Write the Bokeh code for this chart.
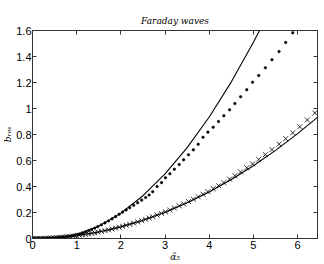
from bokeh.plotting import figure
from bokeh.models import LinearAxis, Range1d, FixedTicker
from bokeh.embed import file_html
from bokeh.resources import INLINE

# ---- data ----
line_hi_x = [0, 0.5, 1.0, 1.5, 2.0, 2.5, 3.0, 3.5, 4.0, 4.5, 5.0, 5.25]
line_hi_y = [0, 0.004, 0.029, 0.095, 0.195, 0.329, 0.497, 0.699, 0.935, 1.205, 1.509, 1.674]

line_lo_x = [0, 0.5, 1.0, 1.5, 2.0, 2.5, 3.0, 3.5, 4.0, 4.5, 5.0, 5.5, 6.0, 6.5]
line_lo_y = [0, 0.0056, 0.0224, 0.0504, 0.0896, 0.14, 0.2016, 0.2744, 0.3584,
             0.4536, 0.56, 0.6776, 0.8064, 0.9464]

grid_x = [0, 0.06, 0.12, 0.18, 0.24, 0.30, 0.36, 0.42, 0.48, 0.54, 0.60, 0.66,
          0.72, 0.78, 0.85, 0.92, 0.99, 1.06, 1.13, 1.20, 1.27, 1.34, 1.41, 1.48,
          1.56, 1.64, 1.72, 1.80, 1.88, 1.96, 2.04, 2.12, 2.20, 2.29, 2.38, 2.47,
          2.56, 2.64, 2.72, 2.82, 2.92, 3.01, 3.11, 3.21, 3.32, 3.42, 3.53, 3.64,
          3.75, 3.86, 3.97, 4.09, 4.21, 4.33, 4.46, 4.58, 4.71, 4.85, 4.98, 5.12,
          5.27, 5.42, 5.58, 5.73, 5.89, 6.05, 6.22, 6.39]

dots_y = [0, 0.0, 0.0, 0.0, 0.001, 0.002, 0.003, 0.004, 0.005, 0.006, 0.008, 0.010,
          0.012, 0.014, 0.017, 0.022, 0.028, 0.035, 0.043, 0.052, 0.061, 0.070, 0.081,
          0.092, 0.105, 0.120, 0.135, 0.151, 0.168, 0.186, 0.203, 0.220, 0.237, 0.256,
          0.275, 0.295, 0.315, 0.335, 0.360, 0.400, 0.430, 0.467, 0.498, 0.533, 0.569,
          0.605, 0.644, 0.682, 0.725, 0.779, 0.818, 0.856, 0.900, 0.944, 0.990, 1.038,
          1.090, 1.144, 1.202, 1.254, 1.313, 1.375, 1.438, 1.508, 1.582]

cross_y = [0, 0.0001, 0.0003, 0.0007, 0.0013, 0.002, 0.0029, 0.004, 0.0052, 0.0065,
           0.0081, 0.0098, 0.0116, 0.0136, 0.0162, 0.019, 0.022, 0.0252, 0.0287,
           0.0323, 0.0362, 0.0403, 0.0446, 0.0492, 0.0547, 0.0605, 0.0665, 0.0729,
           0.0795, 0.0865, 0.0937, 0.1013, 0.1091, 0.1183, 0.1278, 0.1377, 0.148,
           0.1574, 0.1672, 0.180, 0.193, 0.205, 0.219, 0.234, 0.251, 0.266, 0.284,
           0.302, 0.321, 0.340, 0.360, 0.383, 0.406, 0.430, 0.457, 0.483, 0.512,
           0.544, 0.574, 0.608, 0.645, 0.684, 0.726, 0.768, 0.813, 0.860, 0.912, 0.965]

x_ticks = [0, 1, 2, 3, 4, 5, 6]
y_ticks = [0, 0.2, 0.4, 0.6, 0.8, 1.0, 1.2, 1.4, 1.6]
y_tick_labels = {0: "0", 0.2: "0.2", 0.4: "0.4", 0.6: "0.6", 0.8: "0.8", 1.0: "1",
                 1.2: "1.2", 1.4: "1.4", 1.6: "1.6"}

p = figure(width=324, height=264, output_backend="svg", toolbar_location=None,
           x_range=Range1d(0, 6.45), y_range=Range1d(0, 1.6),
           title="Faraday waves")
p.min_border_left = 30
p.min_border_right = 7
p.min_border_top = 30
p.min_border_bottom = 26

p.title.text_font = "DejaVu Serif"
p.title.text_font_style = "italic"
p.title.text_font_size = "9px"
p.title.align = "center"
p.title.text_color = "black"
p.title.offset = 0

p.grid.visible = False
p.outline_line_color = "#333333"
p.outline_line_width = 1
p.background_fill_color = "white"
p.border_fill_color = "white"

def style_axis(ax, show_labels=True):
    ax.major_tick_in = 4
    ax.major_tick_out = 0
    ax.minor_tick_line_color = None
    ax.axis_line_color = "#333333"
    ax.major_tick_line_color = "#333333"
    ax.major_label_text_font = "Liberation Sans"
    ax.major_label_text_font_size = "11px"
    ax.major_label_text_color = "black"
    ax.major_label_standoff = 2
    if not show_labels:
        ax.major_label_overrides = {}
        ax.major_label_text_alpha = 0
        ax.major_label_text_font_size = "1px"
        ax.major_label_standoff = 0

p.xaxis.ticker = FixedTicker(ticks=x_ticks)
p.yaxis.ticker = FixedTicker(ticks=y_ticks)
p.yaxis.major_label_overrides = y_tick_labels
style_axis(p.xaxis[0])
style_axis(p.yaxis[0])
p.yaxis.major_label_standoff = 1
p.xaxis.axis_label = "α̃₅"
p.yaxis.axis_label = "bᵣₑₛ"
for ax in (p.xaxis[0], p.yaxis[0]):
    ax.axis_label_text_font = "DejaVu Serif"
    ax.axis_label_text_font_style = "italic"
    ax.axis_label_text_font_size = "9px"
    ax.axis_label_text_color = "black"
    ax.axis_label_standoff = 0

top = LinearAxis(ticker=FixedTicker(ticks=x_ticks),
                 major_label_overrides={t: "" for t in x_ticks})
style_axis(top, False)
top.major_label_overrides = {t: "" for t in x_ticks}
p.add_layout(top, "above")
right = LinearAxis(ticker=FixedTicker(ticks=y_ticks))
style_axis(right, False)
right.major_label_overrides = {t: "" for t in y_ticks}
p.add_layout(right, "right")

p.line(line_hi_x, line_hi_y, line_color="black", line_width=1.1)
p.line(line_lo_x, line_lo_y, line_color="black", line_width=1.1)
p.scatter(grid_x[:len(dots_y)], dots_y, marker="circle", size=2.6,
          fill_color="black", line_color="black", line_width=0.5)
p.scatter(grid_x, cross_y, marker="x", size=7, line_color="black", line_width=0.8)

open("out.html", "w").write(file_html(p, INLINE))
